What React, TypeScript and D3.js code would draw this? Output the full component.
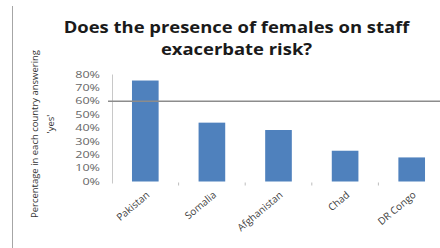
// Bar chart: share of respondents per country saying females on staff exacerbate risk

import React from "react"
import * as d3 from "d3"

const countries = ["Pakistan", "Somalia", "Afghanistan", "Chad", "DR Congo"]
const yesShare = [0.755, 0.44, 0.385, 0.23, 0.18]
const yTicks = [0, 0.1, 0.2, 0.3, 0.4, 0.5, 0.6, 0.7, 0.8]
const markerLevel = 0.6

const titleLines = ["Does the presence of females on staff", "exacerbate risk?"]
const yTitleLines = ["Percentage in each country answering", "'yes'"]

const width = 440
const height = 248
const font = "'Open Sans', 'DejaVu Sans', sans-serif"

function App() {
  const x = d3
    .scaleBand<string>()
    .domain(countries)
    .range([112, 445])
    .paddingInner(0.6)
    .paddingOuter(0.3)

  const y = d3.scaleLinear().domain([0, 0.8]).range([181.5, 74.5])
  const fmt = d3.format(".0%")

  // boundaries between categories get the little tick marks
  const step = x.step()
  const boundaries = d3.range(1, countries.length).map(i => 112 + i * step)

  return (
    <svg
      width={width}
      height={height}
      style={{ position: "absolute", left: 0, top: 0, background: "#fff" }}
      fontFamily={font}
    >
      {/* left frame edge */}
      <line x1={12.5} x2={12.5} y1={6} y2={height} stroke="#a6a6a6" strokeWidth={1} />

      {/* title, the source picture is a little stretched sideways */}
      <g transform="translate(236.5,0) scale(1.19,1)">
        {titleLines.map((t, i) => (
          <text
            key={t}
            x={0}
            y={33.5 + i * 22}
            textAnchor="middle"
            fontSize={15.5}
            fontWeight="bold"
            fill="#1a1a1a"
          >
            {t}
          </text>
        ))}
      </g>

      {/* y axis title */}
      <g transform="translate(38,134) rotate(-90)">
        <text x={-84} fontSize={9.5} fill="#333" textLength={168} lengthAdjust="spacingAndGlyphs">
          {yTitleLines[0]}
        </text>
      </g>
      <g transform="translate(54,124) rotate(-90)">
        <text textAnchor="middle" fontSize={9.5} fill="#333">
          {yTitleLines[1]}
        </text>
      </g>

      {/* y ticks */}
      {yTicks.map(t => (
        <g key={t} transform={`translate(100,${y(t)}) scale(1.4,1)`}>
          <text dy="0.35em" textAnchor="end" fontSize={9} fill="#666">
            {fmt(t)}
          </text>
        </g>
      ))}
      <line x1={112.5} x2={112.5} y1={y(0.8)} y2={y(0) + 2} stroke="#c8c8c8" />

      {/* bars */}
      {countries.map((c, i) => (
        <rect
          key={c}
          x={x(c)}
          y={y(yesShare[i])}
          width={x.bandwidth()}
          height={y(0) - y(yesShare[i])}
          fill="#4f81bd"
        />
      ))}

      {/* category boundary ticks */}
      {boundaries.map(b => (
        <line key={b} x1={b} x2={b} y1={y(0) + 1} y2={y(0) + 4} stroke="#bdbdbd" />
      ))}

      {/* 60% marker line */}
      <line
        x1={108}
        x2={width}
        y1={y(markerLevel)}
        y2={y(markerLevel)}
        stroke="#8c8c8c"
        strokeWidth={1.3}
      />

      {/* category labels */}
      {countries.map(c => {
        const cx = (x(c) ?? 0) + x.bandwidth() / 2
        return (
          <text
            key={c}
            transform={`translate(${cx + 5},196) rotate(-40)`}
            textAnchor="end"
            fontSize={10}
            fill="#404040"
          >
            {c}
          </text>
        )
      })}
    </svg>
  )
}

export default App
